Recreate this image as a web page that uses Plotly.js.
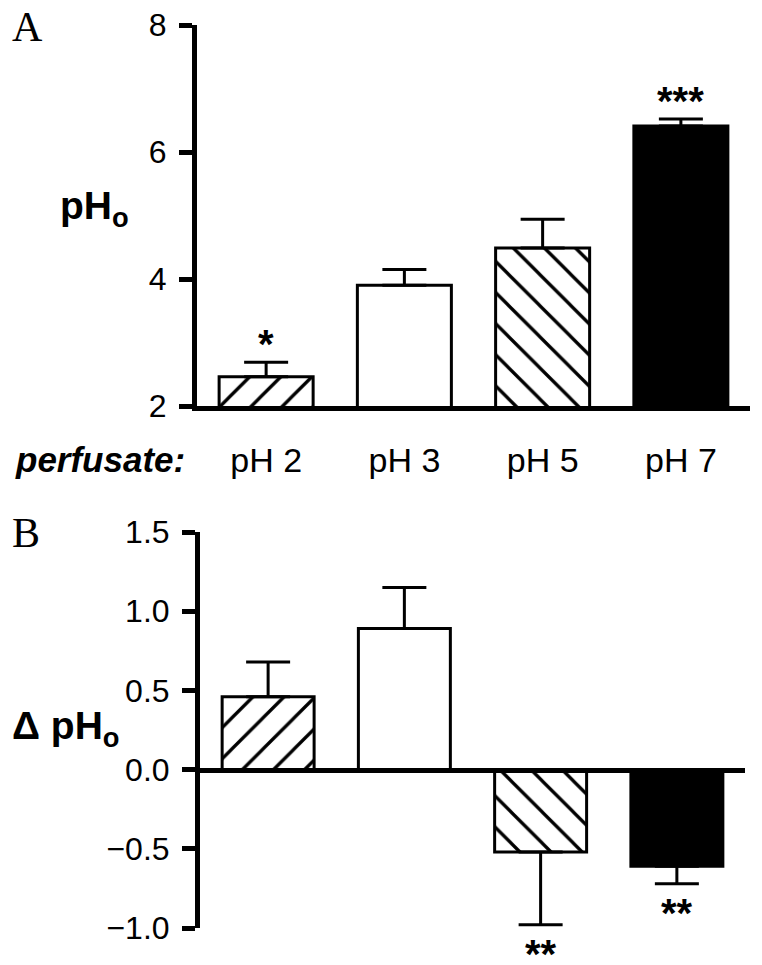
<!DOCTYPE html>
<html>
<head>
<meta charset="utf-8">
<script src="https://cdn.plot.ly/plotly-3.0.1.min.js"></script>
<style>html,body{margin:0;padding:0;background:#fff;}#chart{width:762px;height:965px;}</style>
</head>
<body>
<div id="chart"></div>
<script>
// ---- data ----
const categories = ['pH 2', 'pH 3', 'pH 5', 'pH 7'];
const phoMean = [2.46, 3.90, 4.49, 6.41];
const phoSem = [0.23, 0.25, 0.45, 0.11];
const deltaMean = [0.46, 0.89, -0.52, -0.61];
const deltaSem = [0.22, 0.26, 0.46, 0.11];
const sigA = ['*', '', '', '***'];
const sigB = ['', '', '**', '**'];
const fillColors = ['white', 'white', 'white', 'black'];
const hatch = ['/', '', '\\', ''];

const W = 762, H = 965;
const px = x => x / W;
const py = y => 1 - y / H;

function barTraces(means, sems, xa, ya, width) {
  return categories.map((c, i) => {
    const m = means[i], s = sems[i];
    const marker = {color: fillColors[i], line: {color: 'black', width: 3}};
    if (hatch[i]) {
      marker.pattern = {shape: hatch[i], fgcolor: 'black', bgcolor: fillColors[i], size: 22, solidity: 0.15};
    }
    return {
      type: 'bar', x: [c], y: [m], xaxis: xa, yaxis: ya, width: width,
      marker: marker,
      error_y: {type: 'data', symmetric: false, array: [m >= 0 ? s : 0], arrayminus: [m < 0 ? s : 0],
        color: 'black', thickness: 3, width: 22},
      hoverinfo: 'skip', showlegend: false
    };
  });
}

const traces = barTraces(phoMean, phoSem, 'x', 'y', 0.68)
  .concat(barTraces(deltaMean, deltaSem, 'x2', 'y2', 0.675));

const tickFont = {family: 'Liberation Sans, Arial, sans-serif', size: 32, color: 'black'};
const starFont = {family: 'Liberation Sans, Arial, sans-serif', size: 40, color: 'black'};
const annotations = [];
// significance marks
categories.forEach((c, i) => {
  if (sigA[i]) annotations.push({xref: 'x', yref: 'y', x: c, y: phoMean[i] + phoSem[i], text: '<b>' + sigA[i] + '</b>',
    showarrow: false, yanchor: 'bottom', yshift: -6, font: starFont});
  if (sigB[i]) annotations.push({xref: 'x2', yref: 'y2', x: c, y: deltaMean[i] - deltaSem[i], text: '<b>' + sigB[i] + '</b>',
    showarrow: false, yanchor: 'top', yshift: -5, font: starFont});
});
// panel letters and axis labels
annotations.push(
  {xref: 'paper', yref: 'paper', x: px(10), y: py(27), xanchor: 'left', yanchor: 'middle', text: 'A', showarrow: false,
   font: {family: 'Liberation Serif, Times New Roman, serif', size: 42, color: 'black'}},
  {xref: 'paper', yref: 'paper', x: px(10), y: py(533), xanchor: 'left', yanchor: 'middle', text: 'B', showarrow: false,
   font: {family: 'Liberation Serif, Times New Roman, serif', size: 42, color: 'black'}},
  {xref: 'paper', yref: 'paper', x: px(58), y: py(208), xanchor: 'left', yanchor: 'middle', text: '<b>pH<sub>o</sub></b>', showarrow: false,
   font: {family: 'Liberation Sans, Arial, sans-serif', size: 39, color: 'black'}},
  {xref: 'paper', yref: 'paper', x: px(10), y: py(728), xanchor: 'left', yanchor: 'middle', text: '<b>Δ pH<sub>o</sub></b>', showarrow: false,
   font: {family: 'Liberation Sans, Arial, sans-serif', size: 39, color: 'black'}},
  {xref: 'paper', yref: 'paper', x: px(13), y: py(459), xanchor: 'left', yanchor: 'middle', text: '<b><i>perfusate:</i></b>', showarrow: false,
   font: {family: 'Liberation Sans, Arial, sans-serif', size: 35, color: 'black'}}
);

const layout = {
  width: W, height: H,
  margin: {l: 0, r: 0, t: 0, b: 0},
  paper_bgcolor: 'white', plot_bgcolor: 'white',
  showlegend: false,
  barmode: 'overlay',
  xaxis: {type: 'category', domain: [px(197), px(750)], range: [-0.5, 3.5], anchor: 'y',
    showline: true, linewidth: 5, linecolor: 'black', ticks: '', showgrid: false, zeroline: false,
    tickfont: {family: 'Liberation Sans, Arial, sans-serif', size: 34, color: 'black'}, ticklabelstandoff: 20, fixedrange: true},
  yaxis: {domain: [py(406), py(25)], range: [2, 8], anchor: 'x',
    showline: true, linewidth: 5, linecolor: 'black', ticks: 'outside', ticklen: 13, tickwidth: 5, tickcolor: 'black',
    tickvals: [2, 4, 6, 8], showgrid: false, zeroline: false, tickfont: tickFont, ticklabelstandoff: 6},
  xaxis2: {type: 'category', domain: [px(200), px(745)], range: [-0.5, 3.5], anchor: 'free', position: py(770),
    showline: true, linewidth: 5, linecolor: 'black', ticks: '', showticklabels: false, showgrid: false, zeroline: false},
  yaxis2: {domain: [py(928), py(532)], range: [-1, 1.5], anchor: 'x2',
    showline: true, linewidth: 5, linecolor: 'black', ticks: 'outside', ticklen: 13, tickwidth: 5, tickcolor: 'black',
    tickvals: [-1, -0.5, 0, 0.5, 1, 1.5], tickformat: '.1f', showgrid: false, zeroline: false, tickfont: tickFont, ticklabelstandoff: 6},
  annotations: annotations
};

Plotly.newPlot('chart', traces, layout, {displayModeBar: false, staticPlot: true});
</script>
</body>
</html>
